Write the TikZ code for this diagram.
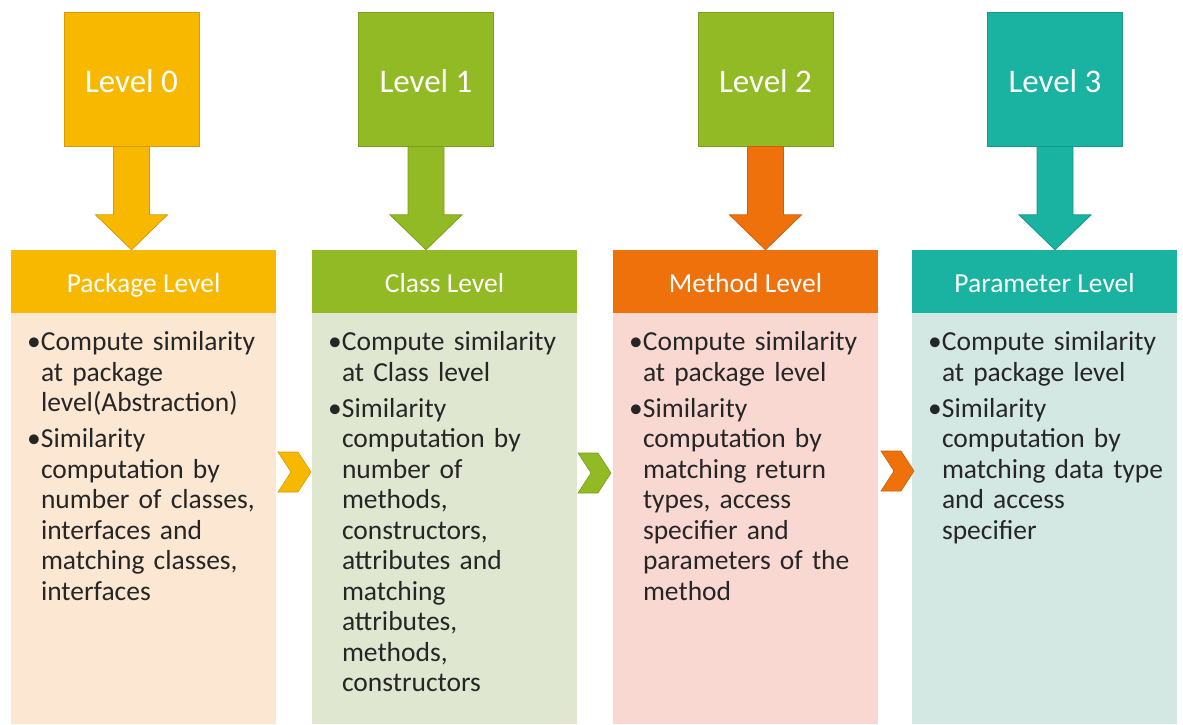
\documentclass[tikz,border=0pt]{standalone}
\usepackage{fontspec}
\setmainfont{Carlito}
\usepackage{xcolor}
\usepackage{tikz}
\usetikzlibrary{positioning,calc}
\definecolor{yel}{HTML}{F9B800}
\definecolor{grn}{HTML}{92BA24}
\definecolor{org}{HTML}{EE710C}
\definecolor{teal}{HTML}{1AB2A0}
\definecolor{yelL}{HTML}{FCE7D2}
\definecolor{grnL}{HTML}{DFE7D1}
\definecolor{orgL}{HTML}{FAD8D2}
\definecolor{tealL}{HTML}{D3E8E3}
\tikzstyle{lvl}=[text=white, minimum width=135pt, minimum height=134pt, inner sep=0pt, line width=0.8pt, text height=26pt, text depth=0pt, font=\fontsize{33}{40}\selectfont]
\tikzstyle{head}=[text=white, minimum width=265pt, minimum height=63pt, inner sep=0pt, text height=21pt, text depth=0pt, font=\fontsize{27.5}{33}\selectfont]
\tikzstyle{body}=[minimum width=265pt, minimum height=411pt, inner sep=0pt]
\tikzstyle{txt}=[inner sep=0pt, text width=250pt, align=left, text=black!85, font=\fontsize{27.5}{30.5}\selectfont\setlength{\parskip}{4.5pt}]
% bullet item, the lines after the first hang under the text
\newcommand{\itm}[1]{\par\noindent\makebox[14pt][c]{\textbullet}\parbox[t]{234pt}{\strut#1\strut}}

\begin{document}
\begin{tikzpicture}[x=1pt,y=-1pt]
\useasboundingbox (0,0) rectangle (1183,724);
\foreach \i/\cx/\lx/\main/\lite/\top/\name in {0/143.5/131.5/yel/yelL/yel/Package Level,
	1/444.5/426/grn/grnL/grn/Class Level,
	2/745.5/765.5/org/orgL/grn/Method Level,
	3/1044.5/1055/teal/tealL/teal/Parameter Level} {
	\node[head, fill=\main] (h\i) at (\cx,281.5) {\name};
	\node[body, fill=\lite, anchor=north] (b\i) at (h\i.south) {};
	\node[lvl, fill=\top, draw=\top!85!black] (l\i) at (\lx,79) {Level \i};
	\coordinate (tip\i) at (l\i.south |- h\i.north);
	\filldraw[fill=\main, draw=\main!85!black, line width=0.8pt] ($(l\i.south)+(-18,0)$) -- ($(l\i.south)+(18,0)$)
		-- ($(tip\i)+(18,-35)$) -- ($(tip\i)+(36,-35)$) -- (tip\i)
		-- ($(tip\i)+(-36,-35)$) -- ($(tip\i)+(-18,-35)$) -- cycle;
}
% chevrons between the columns
\foreach \x/\y/\c in {278/452/yel, 578/453/grn, 881/451/org} {
	\filldraw[fill=\c, draw=\c!85!black, line width=0.6pt] (\x,\y) -- ++(20,0) -- ++(13,20) -- ++(-13,20) -- ++(-20,0) -- ++(13,-20) -- cycle;
}
\node[txt, below right=2.5pt and 16pt of h0.south west] (t0) {%
\itm{Compute similarity\\at package\\level(Abstraction)}
\itm{Similarity\\computation by\\number of classes,\\interfaces and\\matching classes,\\interfaces}};
\node[txt, below right=2.5pt and 16pt of h1.south west] (t1) {%
\itm{Compute similarity\\at Class level}
\itm{Similarity\\computation by\\number of\\methods,\\constructors,\\attributes and\\matching\\attributes,\\methods,\\constructors}};
\node[txt, below right=2.5pt and 16pt of h2.south west] (t2) {%
\itm{Compute similarity\\at package level}
\itm{Similarity\\computation by\\matching return\\types, access\\specifier and\\parameters of the\\method}};
\node[txt, below right=2.5pt and 16pt of h3.south west] (t3) {%
\itm{Compute similarity\\at package level}
\itm{Similarity\\computation by\\matching data type\\and access\\specifier}};
\end{tikzpicture}
\end{document}
